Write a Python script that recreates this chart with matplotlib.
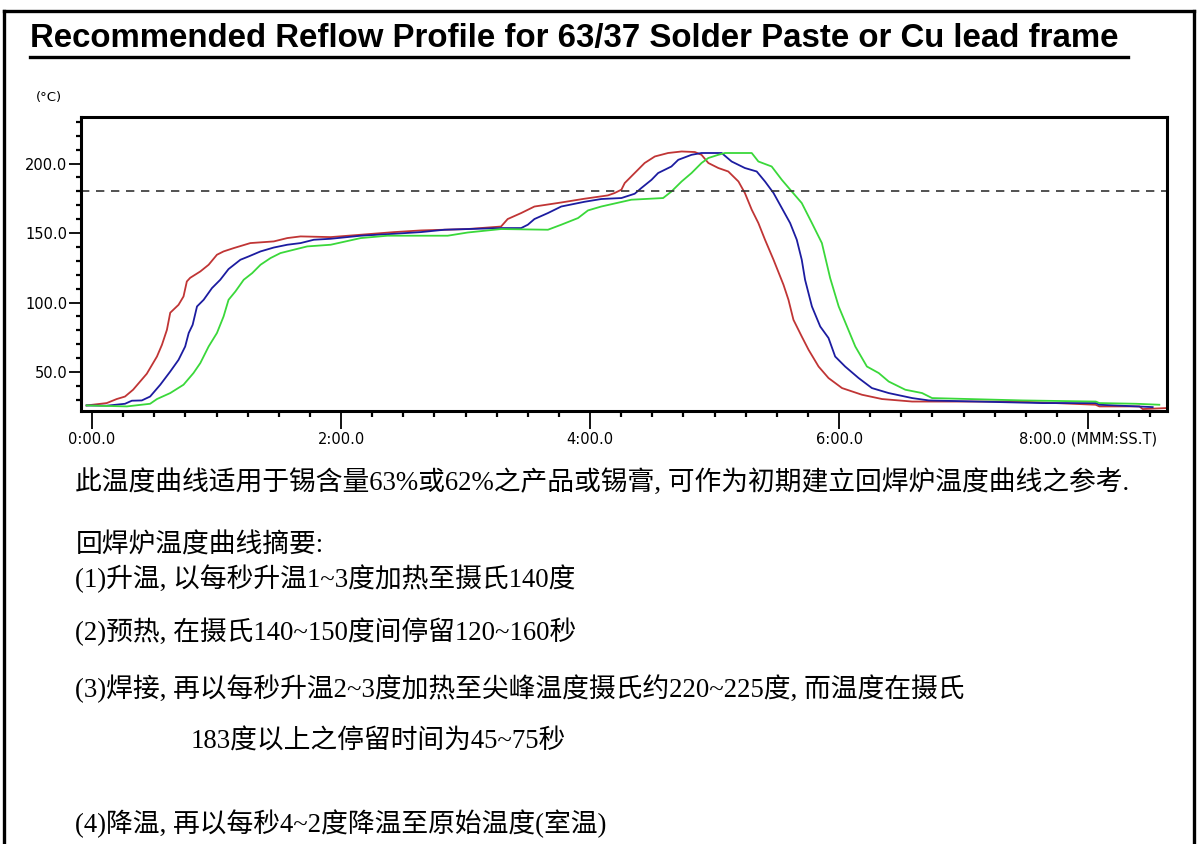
import matplotlib
matplotlib.use("Agg")
import matplotlib.pyplot as plt
from matplotlib.ticker import MultipleLocator, FixedLocator
from matplotlib.lines import Line2D

# time in seconds, temperature in deg C
red_t = [-2.6, 7.1, 11.9, 15.9, 19.8, 26.4, 31.3, 33.7, 36.1, 37.7, 41.7, 44.1, 45.7, 47.3, 52.2,
         56.2, 60.2, 63.4, 68.3, 76.3, 87.6, 94.1, 100.5, 115.0, 129.5, 145.6, 158.5, 181.0, 197.1,
         200.3, 206.8, 213.2, 226.1, 237.3, 248.6, 251.8, 255.1, 256.7, 261.5, 266.3, 271.2, 277.6,
         284.1, 290.5, 293.7, 297.0, 301.8, 306.6, 311.5, 314.6, 317.9, 321.1, 324.3, 328.4, 333.2,
         335.6, 338.0, 342.0, 345.3, 350.1, 354.9, 361.4, 371.0, 380.7, 395.2, 446.7, 483.6, 485.4,
         504.7, 506.3, 517.5]
red_T = [26.0, 27.7, 30.6, 32.4, 37.3, 48.8, 61.2, 69.6, 80.4, 92.7, 98.4, 104.4, 115.2, 117.8, 122.4,
         127.2, 134.4, 136.8, 139.2, 142.8, 144.0, 146.4, 147.6, 147.1, 148.8, 150.7, 151.9, 152.9, 154.7,
         160.1, 164.4, 169.1, 172.0, 174.7, 177.1, 178.8, 181.2, 186.0, 193.2, 200.4, 205.1, 207.6,
         208.7, 208.3, 206.3, 200.4, 196.8, 194.3, 187.1, 178.8, 166.8, 157.2, 145.2, 130.8, 112.8,
         102.0, 87.6, 75.6, 66.0, 54.0, 45.7, 38.5, 33.7, 30.6, 28.8, 28.8, 26.5, 25.3,
         25.3, 23.4, 24.1]

blue_t = [-2.6, 7.1, 15.9, 19.2, 24.0, 28.0, 32.9, 37.7, 41.7, 44.9, 46.6, 48.5, 50.6, 53.8, 57.8,
          61.8, 65.8, 71.5, 75.5, 81.2, 87.6, 94.1, 100.5, 106.9, 115.0, 129.5, 145.6, 158.5, 169.8,
          197.1, 206.8, 210.0, 213.2, 219.7, 226.1, 237.3, 245.4, 255.1, 261.5, 264.7, 269.6, 272.8,
          279.2, 282.5, 288.9, 293.7, 303.4, 308.2, 314.6, 320.3, 324.3, 328.4, 332.4, 336.4, 339.6,
          342.0, 343.6, 346.9, 350.9, 354.9, 358.1, 362.9, 369.4, 375.8, 383.9, 395.2, 403.2, 458.0,
          483.7, 485.4, 511.1]
blue_T = [26.0, 25.8, 27.2, 29.4, 29.6, 32.4, 40.9, 50.4, 58.8, 68.4, 78.1, 84.0, 97.2, 102.0, 110.4,
          116.4, 124.1, 130.8, 133.2, 136.8, 139.6, 141.6, 142.8, 145.2, 145.9, 148.1, 149.5, 150.7, 152.4,
          153.6, 153.6, 156.0, 160.1, 164.4, 169.1, 172.5, 174.5, 175.2, 178.3, 182.4, 188.3, 193.2,
          197.9, 202.7, 206.3, 207.6, 207.6, 201.5, 196.8, 194.3, 187.1, 178.8, 168.0, 157.2, 145.2,
          130.8, 116.4, 97.2, 82.8, 74.5, 61.2, 54.0, 45.7, 38.5, 34.9, 31.3, 29.6, 27.7,
          27.7, 26.5, 24.8]

green_t = [-2.6, 16.8, 28.0, 31.3, 37.7, 44.1, 48.9, 52.2, 56.2, 60.2, 63.4, 65.8, 69.1, 73.1, 77.2,
           81.2, 86.0, 90.8, 97.2, 103.7, 115.0, 129.5, 142.4, 171.4, 181.0, 197.1, 219.7, 226.1, 234.2,
           239.0, 245.4, 259.9, 275.2, 279.2, 284.1, 288.9, 293.7, 297.0, 301.8, 305.0, 317.9, 321.1,
           327.5, 332.4, 337.2, 342.0, 346.9, 351.7, 355.7, 359.8, 363.8, 367.8, 373.4, 379.1, 383.9,
           391.9, 400.0, 404.8, 448.3, 483.7, 485.4, 503.1, 514.3]
green_T = [26.0, 25.3, 27.2, 30.6, 34.9, 40.9, 49.3, 56.5, 68.4, 78.1, 90.0, 102.0, 108.0, 116.4, 121.2,
           127.2, 132.0, 135.6, 138.0, 140.4, 141.6, 146.4, 148.1, 148.1, 150.4, 152.9, 152.4, 156.0, 160.8,
           166.3, 169.1, 174.0, 175.2, 179.9, 187.1, 193.2, 200.4, 204.0, 206.3, 207.6, 207.6, 201.5,
           197.9, 188.3, 179.9, 171.6, 157.2, 142.8, 117.6, 97.2, 82.8, 68.4, 54.0, 49.3, 43.2,
           37.3, 34.9, 31.3, 29.6, 28.8, 27.7, 27.2, 26.5]

liquidus = 180.0
x_ticks = [0, 120, 240, 360, 480]
x_labels = ["0:00.0", "2:00.0", "4:00.0", "6:00.0", "8:00.0 (MMM:SS.T)"]
y_ticks = [50, 100, 150, 200]
y_labels = ["50.0", "100.0", "150.0", "200.0"]

title = "Recommended Reflow Profile for 63/37 Solder Paste or Cu lead frame"
notes = [
    (0.063, 482, "此温度曲线适用于锡含量63%或62%之产品或锡膏, 可作为初期建立回焊炉温度曲线之参考."),
    (0.063, 546, "回焊炉温度曲线摘要:"),
    (0.063, 579, "(1)升温, 以每秒升温1~3度加热至摄氏140度"),
    (0.063, 632, "(2)预热, 在摄氏140~150度间停留120~160秒"),
    (0.063, 689, "(3)焊接, 再以每秒升温2~3度加热至尖峰温度摄氏约220~225度, 而温度在摄氏"),
    (0.159, 742, "183度以上之停留时间为45~75秒"),
    (0.063, 824, "(4)降温, 再以每秒4~2度降温至原始温度(室温)"),
]

W, H = 1198, 844
fig = plt.figure(figsize=(W / 100, H / 100), dpi=100)

# page frame
for xs, ys in [([4 / W, 4 / W], [0, 1 - 11 / H]), ([4 / W, 1194 / W], [1 - 11 / H, 1 - 11 / H]),
               ([1194 / W, 1194 / W], [0, 1 - 11 / H])]:
    fig.add_artist(Line2D(xs, ys, color="black", lw=2.4, transform=fig.transFigure))

fig.text(30 / W, 1 - 39 / H, title, fontsize=23.8, fontweight="bold", family="Liberation Sans",
         ha="left", va="center")
fig.add_artist(Line2D([30 / W, 1128 / W], [1 - 57 / H, 1 - 57 / H], color="black", lw=2.4,
                      transform=fig.transFigure))

ax = fig.add_axes([81 / W, 1 - 411 / H, (1167 - 81) / W, (411 - 117) / H])
ax.plot(red_t, red_T, color="#c03535", lw=1.3)
ax.plot(blue_t, blue_T, color="#1c1ca0", lw=1.3)
ax.plot(green_t, green_T, color="#3ad83a", lw=1.3)
ax.axhline(liquidus, color="#333333", lw=1.2, ls=(0, (5, 4)))

ax.set_xlim(-5.3, 518)
ax.set_ylim(22, 233.5)
ax.xaxis.set_major_locator(FixedLocator(x_ticks))
ax.set_xticklabels(x_labels)
ax.xaxis.set_minor_locator(MultipleLocator(15))
ax.yaxis.set_major_locator(FixedLocator(y_ticks))
ax.set_yticklabels(y_labels)
ax.yaxis.set_minor_locator(MultipleLocator(10))
ax.tick_params(axis="x", which="major", length=13, width=1.3, pad=2, labelsize=10.5)
ax.tick_params(axis="x", which="minor", length=4.5, width=1.6)
ax.tick_params(axis="y", which="major", length=9, width=1.3, pad=1, labelsize=10.5)
ax.tick_params(axis="y", which="minor", length=3.6, width=1.6)
for lab in ax.get_xticklabels() + ax.get_yticklabels():
    lab.set_family("DejaVu Sans")
for sp in ax.spines.values():
    sp.set_linewidth(2.2)

fig.text(36 / W, 1 - 97 / H, "(°C)", fontsize=9.5, family="DejaVu Sans", ha="left", va="center")

for x, y, s in notes:
    fig.text(x, 1 - y / H, s, fontsize=19.3, family=["Liberation Serif", "Noto Sans CJK SC"],
             ha="left", va="center")

fig.savefig("out.png", dpi=100)
